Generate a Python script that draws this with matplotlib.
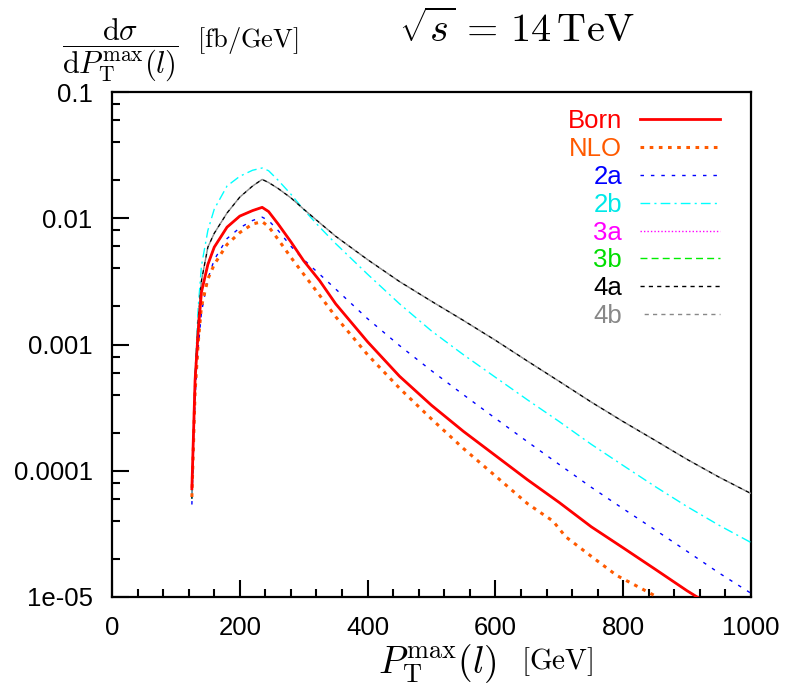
import numpy as np
import matplotlib
matplotlib.use("Agg")
import matplotlib.pyplot as plt
from matplotlib.ticker import FixedLocator, FixedFormatter, LogLocator, MultipleLocator, NullFormatter

plt.rcParams['font.family'] = ['Liberation Sans', 'DejaVu Sans']
plt.rcParams['mathtext.fontset'] = 'cm'

# ---- data (pT in GeV, dsigma/dpT in fb/GeV) ----
pt = [125, 130, 135, 140, 150, 160, 180, 200, 220, 235, 245, 260, 280, 300, 325, 350,
      400, 450, 500, 550, 600, 650, 700, 750, 800, 850, 900, 950, 1000]
pt_nlo = [125, 130, 135, 140, 150, 160, 180, 200, 220, 235, 245, 260, 280, 300, 325, 350,
          400, 450, 500, 550, 600, 650, 675, 690, 710, 750, 790, 820, 850, 880]

sig_born = [7.2e-5, 5.2e-4, 1.3e-3, 2.6e-3, 4.3e-3, 5.9e-3, 8.5e-3, 0.0104, 0.0115, 0.0122,
            0.0113, 0.0090, 0.0065, 0.0046, 0.0032, 2.1e-3, 1.05e-3, 5.6e-4, 3.3e-4,
            2.05e-4, 1.32e-4, 8.5e-5, 5.6e-5, 3.6e-5, 2.45e-5, 1.66e-5, 1.12e-5, 7.8e-6, 5.4e-6]
sig_nlo = [6.2e-5, 4.2e-4, 1.05e-3, 2.0e-3, 3.3e-3, 4.3e-3, 6.2e-3, 7.7e-3, 9.0e-3, 9.4e-3,
           8.6e-3, 6.8e-3, 4.9e-3, 3.6e-3, 2.45e-3, 1.66e-3, 8.3e-4, 4.5e-4, 2.57e-4,
           1.5e-4, 9.1e-5, 5.5e-5, 4.5e-5, 4.0e-5, 3.0e-5, 2.1e-5, 1.48e-5, 1.23e-5,
           1.02e-5, 8.0e-6]
sig_2a = [5.4e-5, 3.8e-4, 9.5e-4, 1.8e-3, 3.3e-3, 4.7e-3, 6.9e-3, 8.4e-3, 9.6e-3, 0.0102,
          9.6e-3, 8.0e-3, 6.0e-3, 4.7e-3, 3.6e-3, 2.75e-3, 1.6e-3, 9.8e-4, 6.2e-4, 4.0e-4,
          2.6e-4, 1.7e-4, 1.12e-4, 7.4e-5, 5.0e-5, 3.4e-5, 2.3e-5, 1.55e-5, 1.07e-5]
sig_2b = [6.0e-5, 6.0e-4, 2.0e-3, 4.2e-3, 8.0e-3, 0.0118, 0.0180, 0.0215, 0.0240, 0.0250,
          0.0238, 0.0200, 0.0155, 0.0117, 8.5e-3, 6.3e-3, 3.6e-3, 2.1e-3, 1.28e-3, 8.3e-4,
          5.5e-4, 3.65e-4, 2.45e-4, 1.62e-4, 1.1e-4, 7.5e-5, 5.2e-5, 3.7e-5, 2.7e-5]
sig_3a = list(sig_born)   # hidden under Born in the reference
sig_3b = list(sig_born)
sig_4a = [6.0e-5, 5.5e-4, 1.6e-3, 3.2e-3, 5.9e-3, 7.6e-3, 0.0110, 0.0147, 0.0180, 0.0203,
          0.0192, 0.0172, 0.0145, 0.0118, 9.2e-3, 7.2e-3, 4.7e-3, 3.15e-3, 2.2e-3, 1.55e-3,
          1.08e-3, 7.4e-4, 5.1e-4, 3.5e-4, 2.45e-4, 1.74e-4, 1.23e-4, 8.9e-5, 6.6e-5]
sig_4b = list(sig_4a)

labels = ["Born", "NLO", "2a", "2b", "3a", "3b", "4a", "4b"]
ytick_vals = [1e-5, 1e-4, 1e-3, 1e-2, 1e-1]
ytick_labels = ["1e-05", "0.0001", "0.001", "0.01", "0.1"]

# ---- figure ----
fig = plt.figure(figsize=(7.87, 6.91), dpi=100)
W, H = 787, 691
ax = fig.add_axes([112 / W, 1 - 597 / H, (751 - 112) / W, (597 - 92) / H])

series = [
    (pt, sig_born, "#ff0000", "-", 2.0, 10),
    (pt_nlo, sig_nlo, "#ff5a00", (0, (1.2, 1.8)), 2.2, 6),
    (pt, sig_2a, "#0000ff", (0, (2.5, 5)), 1.0, 5),
    (pt, sig_2b, "#00ffff", (0, (7, 3, 1.5, 3)), 1.0, 5),
    (pt, sig_3a, "#ff00ff", (0, (1, 1.5)), 1.0, 4),
    (pt, sig_3b, "#00ee00", (0, (5, 3)), 1.0, 4),
    (pt, sig_4a, "#000000", (0, (3, 3)), 1.0, 5),
    (pt, sig_4b, "#888888", (3, (3, 3)), 1.0, 5),
]
text_cols = ["#ff0000", "#ff5a00", "#0000ff", "#00e8e8", "#ff00ff", "#00dd00", "#000000", "#888888"]

for (xs, vals, col, ls, lw, z), lab in zip(series, labels):
    ax.plot(xs, vals, color=col, linestyle=ls, linewidth=lw, zorder=z, label=lab)

ax.set_yscale("log")
ax.set_xlim(0, 1000)
ax.set_ylim(1e-5, 0.1)

ax.yaxis.set_major_locator(FixedLocator(ytick_vals))
ax.yaxis.set_major_formatter(FixedFormatter(ytick_labels))
ax.yaxis.set_minor_locator(LogLocator(base=10, subs=(2, 4, 6, 8)))
ax.yaxis.set_minor_formatter(NullFormatter())
ax.xaxis.set_major_locator(MultipleLocator(200))
ax.xaxis.set_minor_locator(MultipleLocator(40))

ax.tick_params(which="both", direction="in", top=False, right=False, labelsize=18.5, width=1.5)
ax.tick_params(which="major", length=12, pad=14)
ax.tick_params(which="minor", length=6)
for sp in ax.spines.values():
    sp.set_linewidth(1.6)

leg = ax.legend(loc="upper right", bbox_to_anchor=(0.951, 0.966), frameon=False,
                markerfirst=False, fontsize=18.5, handlelength=3.1, handletextpad=0.7,
                labelspacing=0.15, borderpad=0, borderaxespad=0)
for t, c in zip(leg.get_texts(), text_cols):
    t.set_color(c)

# axis labels / title as in the original (TeX style)
fig.text(120 / W, 1 - 50 / H,
         r"$\dfrac{\mathrm{d}\sigma}{\mathrm{d}P_{\mathrm{T}}^{\mathrm{max}}(l)}$",
         ha="center", va="center", fontsize=22)
fig.text(248 / W, 1 - 40 / H, r"$\mathrm{[fb/GeV]}$", ha="center", va="center", fontsize=19)
fig.text(517 / W, 1 - 30 / H, r"$\sqrt{s}\, =\, 14\,\mathrm{TeV}$", ha="center", va="center", fontsize=29)
fig.text(437 / W, 1 - 664 / H, r"$P_{\mathrm{T}}^{\mathrm{max}}(l)$", ha="center", va="center", fontsize=27)
fig.text(557 / W, 1 - 662 / H, r"$\mathrm{[GeV]}$", ha="center", va="center", fontsize=21)

fig.savefig("out.png", dpi=100)
